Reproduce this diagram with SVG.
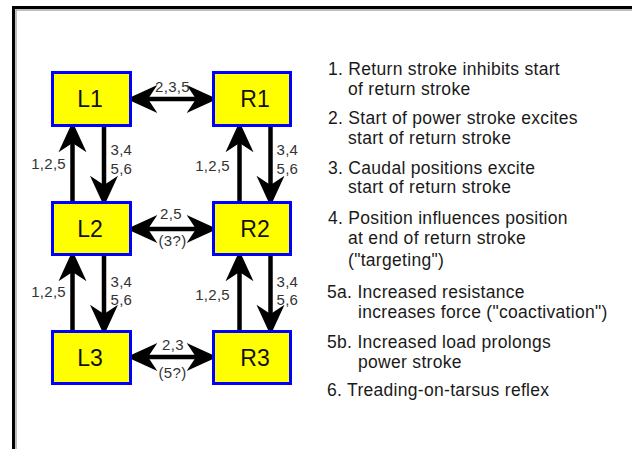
<svg xmlns="http://www.w3.org/2000/svg" width="632" height="449" viewBox="0 0 632 449">
<style>
.box{fill:#ffff00;stroke:#0000ff;stroke-width:3}
.nl{font-family:"Liberation Sans",Arial,sans-serif;font-size:23px;fill:#111;text-anchor:middle}
.lb{font-family:"Liberation Sans",Arial,sans-serif;font-size:15px;fill:#333;letter-spacing:0.3px}
.mid{text-anchor:middle}
.end{text-anchor:end}
.tx{font-family:"Liberation Sans",Arial,sans-serif;font-size:17.5px;fill:#1a1a1a;letter-spacing:0.3px}
.ar{stroke:#000;stroke-width:4.5;fill:none}
</style>
<defs>
<marker id="ah" markerUnits="userSpaceOnUse" markerWidth="40" markerHeight="40" refX="0" refY="0" viewBox="-10 -15 30 30" orient="auto-start-reverse" overflow="visible">
<path d="M16,0 L-7,-10.5 L0,0 L-7,10.5 Z" fill="#000"/>
</marker>
</defs>
<rect width="632" height="449" fill="#fff"/>
<g id="frame">
<path d="M13.5,449 V7.5 H632" fill="none" stroke="#000" stroke-width="3"/>
<path d="M16,449 V10 H632" fill="none" stroke="#aaa" stroke-width="1.5"/>
</g>
<g id="connectors">
<line class="ar" x1="148" y1="99" x2="196" y2="99" marker-start="url(#ah)" marker-end="url(#ah)"/>
<line class="ar" x1="148" y1="229" x2="196" y2="229" marker-start="url(#ah)" marker-end="url(#ah)"/>
<line class="ar" x1="148" y1="357" x2="196" y2="357" marker-start="url(#ah)" marker-end="url(#ah)"/>
<line class="ar" x1="72.5" y1="201" x2="72.5" y2="143" marker-end="url(#ah)"/>
<line class="ar" x1="104" y1="127" x2="104" y2="185" marker-end="url(#ah)"/>
<line class="ar" x1="239.5" y1="201" x2="239.5" y2="143" marker-end="url(#ah)"/>
<line class="ar" x1="270.5" y1="127" x2="270.5" y2="185" marker-end="url(#ah)"/>
<line class="ar" x1="72.5" y1="330" x2="72.5" y2="272" marker-end="url(#ah)"/>
<line class="ar" x1="104" y1="256" x2="104" y2="314" marker-end="url(#ah)"/>
<line class="ar" x1="239.5" y1="330" x2="239.5" y2="272" marker-end="url(#ah)"/>
<line class="ar" x1="270.5" y1="256" x2="270.5" y2="314" marker-end="url(#ah)"/>
<text class="lb mid" x="172.5" y="92">2,3,5</text>
<text class="lb mid" x="171" y="218.5">2,5</text>
<text class="lb mid" x="172.5" y="246">(3?)</text>
<text class="lb mid" x="173" y="350">2,3</text>
<text class="lb mid" x="172.5" y="378">(5?)</text>
<text class="lb end" x="66" y="168.5">1,2,5</text>
<text class="lb" x="110.5" y="155">3,4</text>
<text class="lb" x="110.5" y="173.5">5,6</text>
<text class="lb end" x="230" y="171">1,2,5</text>
<text class="lb" x="276.5" y="155">3,4</text>
<text class="lb" x="276.5" y="173.5">5,6</text>
<text class="lb end" x="66" y="297">1,2,5</text>
<text class="lb" x="110.5" y="287">3,4</text>
<text class="lb" x="110.5" y="305">5,6</text>
<text class="lb end" x="230" y="300">1,2,5</text>
<text class="lb" x="276.5" y="287">3,4</text>
<text class="lb" x="276.5" y="305">5,6</text>
</g>
<g id="L1"><rect class="box" x="52.5" y="72.5" width="78" height="53"/><text class="nl" x="90" y="107">L1</text></g>
<g id="R1"><rect class="box" x="213.5" y="72.5" width="77" height="53"/><text class="nl" x="255" y="107">R1</text></g>
<g id="L2"><rect class="box" x="52.5" y="202.5" width="78" height="52"/><text class="nl" x="90" y="237">L2</text></g>
<g id="R2"><rect class="box" x="213.5" y="202.5" width="77" height="52"/><text class="nl" x="255" y="237">R2</text></g>
<g id="L3"><rect class="box" x="52.5" y="331.5" width="78" height="52"/><text class="nl" x="90" y="366">L3</text></g>
<g id="R3"><rect class="box" x="213.5" y="331.5" width="77" height="52"/><text class="nl" x="255" y="366">R3</text></g>
<g id="legend">
<text class="tx" x="328" y="75">1. Return stroke inhibits start</text>
<text class="tx" x="348" y="94.5">of return stroke</text>
<text class="tx" x="328" y="124">2. Start of power stroke excites</text>
<text class="tx" x="348" y="143.5">start of return stroke</text>
<text class="tx" x="328" y="173.5">3. Caudal positions excite</text>
<text class="tx" x="348" y="193">start of return stroke</text>
<text class="tx" x="328" y="224">4. Position influences position</text>
<text class="tx" x="348" y="244">at end of return stroke</text>
<text class="tx" x="348" y="266">("targeting")</text>
<text class="tx" x="327" y="298">5a. Increased resistance</text>
<text class="tx" x="358" y="318">increases force ("coactivation")</text>
<text class="tx" x="327" y="348">5b. Increased load prolongs</text>
<text class="tx" x="358" y="368">power stroke</text>
<text class="tx" x="327" y="396">6. Treading-on-tarsus reflex</text>
</g>
</svg>
